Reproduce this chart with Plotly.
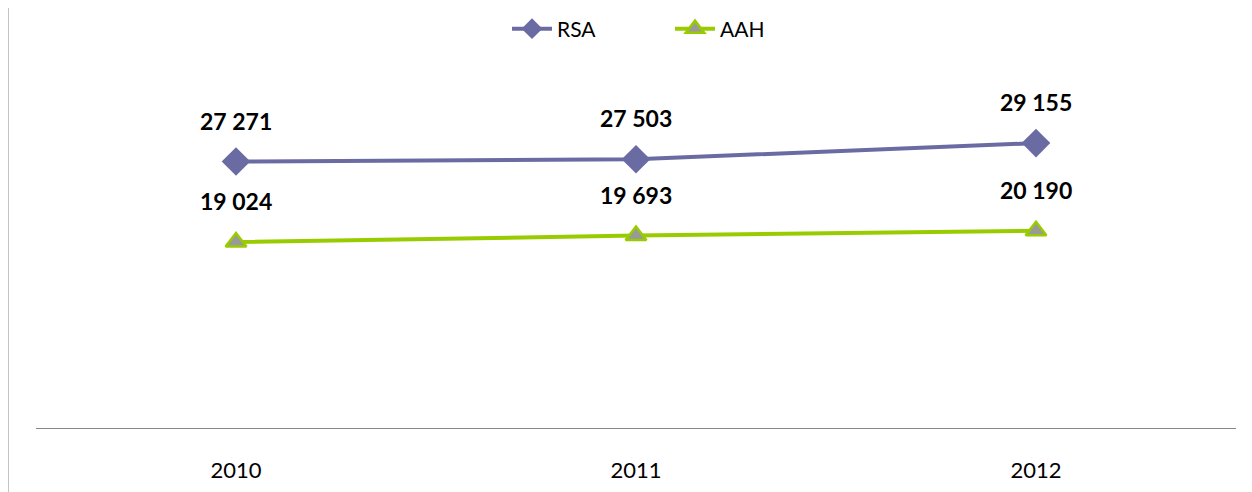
import plotly.graph_objects as go

years = ["2010", "2011", "2012"]
rsa = [27271, 27503, 29155]
aah = [19024, 19693, 20190]
rsa_labels = ["27 271", "27 503", "29 155"]
aah_labels = ["19 024", "19 693", "20 190"]

OFF = 8  # page body margin
W, H = 1252 - OFF, 492 - OFF
L, R, T, B = 36 - OFF, 16, 86 - OFF, 64
pw, ph = W - L - R, H - T - B

FONT = "Lato, Calibri, Arial, sans-serif"

fig = go.Figure()
fig.add_trace(go.Scatter(
    x=years, y=rsa, name="RSA", mode="lines+markers",
    line=dict(color="#6B6BA3", width=4),
    marker=dict(symbol="diamond", size=22, color="#6B6BA3"),
))
fig.add_trace(go.Scatter(
    x=years, y=aah, name="AAH", mode="lines+markers",
    line=dict(color="#99CC00", width=4),
    marker=dict(symbol="triangle-up", size=18, color="#999999",
                line=dict(color="#99CC00", width=2.5)),
))

for ys, labs in ((rsa, rsa_labels), (aah, aah_labels)):
    for i, (y, t) in enumerate(zip(ys, labs)):
        fig.add_annotation(x=i, y=y, xref="x", yref="y", text="<b>%s</b>" % t,
                           showarrow=False, yshift=41,
                           font=dict(family=FONT, size=23, color="#000000"))

fig.add_shape(type="line", xref="paper", yref="paper",
              x0=(8 - 36) / pw, x1=(8 - 36) / pw,
              y0=-B / ph - 0.05, y1=1 + T / ph + 0.05,
              line=dict(color="#888888", width=1))

fig.update_layout(
    width=W, height=H,
    margin=dict(l=L, r=R, t=T, b=B, autoexpand=False),
    paper_bgcolor="white", plot_bgcolor="white",
    font=dict(family=FONT, size=20, color="#000000"),
    showlegend=True,
    legend=dict(orientation="h", x=0.5 + 34 / pw, xanchor="center",
                yref="container", y=1 - (29 - OFF) / H, yanchor="middle",
                font=dict(family=FONT, size=21), itemwidth=40, entrywidth=108),
    xaxis=dict(type="category", range=[-0.5, 2.5], showgrid=False,
               showline=True, linecolor="#888888", linewidth=1,
               ticks="outside", ticklen=23, tickcolor="rgba(0,0,0,0)",
               zeroline=False, automargin=False, tickfont=dict(family=FONT, size=22)),
    yaxis=dict(range=[0, 35000], visible=False, showgrid=False, zeroline=False),
)

fig.write_html("out.html")
